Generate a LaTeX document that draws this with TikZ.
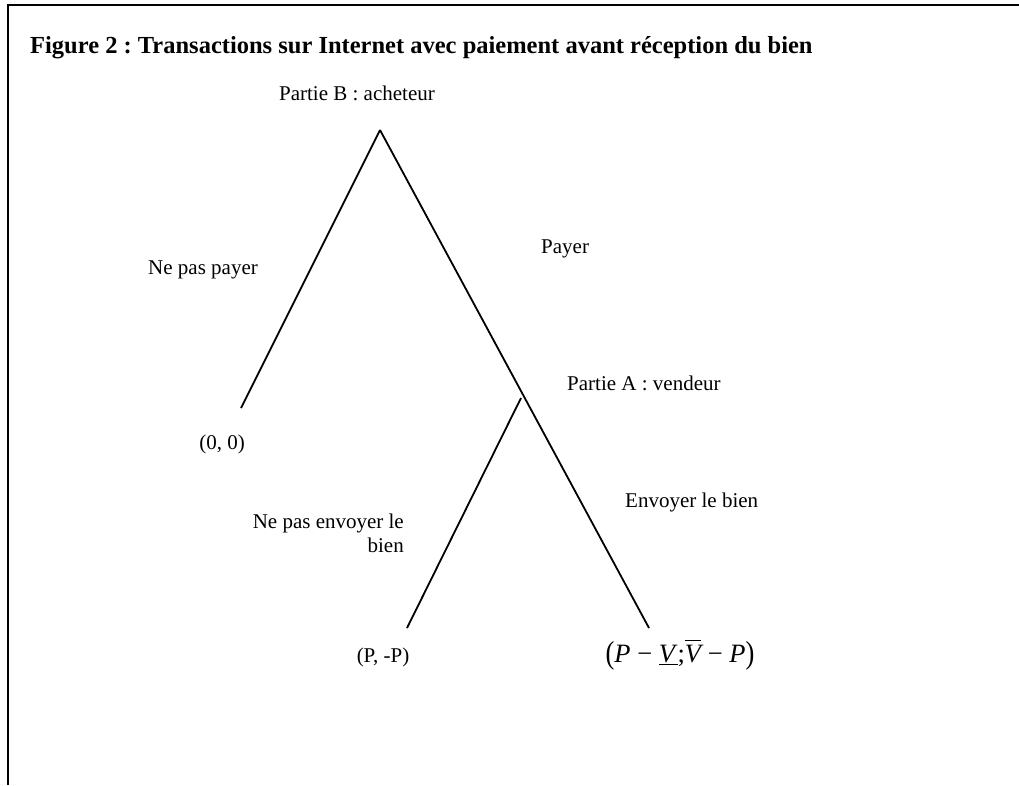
\documentclass[tikz,border=0pt]{standalone}
\usepackage{fontspec}
\setmainfont{Liberation Serif}
\usepackage{tikz}
\usetikzlibrary{positioning}

\newcommand{\grandpar}[1]{\raisebox{-0.04em}{\scalebox{1}[1.2]{#1}}}

\tikzset{
  branche/.style={line width=1.8pt},
  etiq/.style={font=\fontsize{21}{24}\selectfont, inner sep=0pt},
}

\begin{document}
\frenchspacing
\begin{tikzpicture}[x=1pt, y=-1pt]
    \useasboundingbox (0,0) rectangle (1019,785);
    % cadre
    \draw[line width=2pt] (8,785) -- (8,5) -- (1019,5);
    % titre
    \node[anchor=west, inner sep=0pt, font=\bfseries\fontsize{24.5}{28}\selectfont] (titre) at (30,48)
        {Figure 2 : Transactions sur Internet avec paiement avant réception du bien};

    % noeuds de l'arbre
    \coordinate (B) at (380,130);
    \coordinate (A) at (521,398);
    \coordinate (f1) at (241,408);
    \coordinate (f2) at (407,628);
    \coordinate (f3) at (649,628);

    % branches
    \draw[branche] (B) -- (f1);
    \draw[branche] (B) -- (f3);
    \draw[branche] (A) -- (f2);

    % joueurs
    \node[etiq] (partieB) at (357,93) {Partie B : acheteur};
    \node[etiq, anchor=west] (partieA) at (567,383) {Partie A : vendeur};

    % actions
    \node[etiq, anchor=west] (nepaspayer) at (148,270) {Ne pas payer};
    \node[etiq, anchor=west] (payer) at (541,249) {Payer};
    \node[etiq, anchor=east, align=right] (nepasenvoyer) at (404,533) {Ne pas envoyer le\\bien};
    \node[etiq, anchor=west] (envoyer) at (625,502) {Envoyer le bien};

    % gains
    \node[etiq] (g1) at (222,444) {(0, 0)};
    \node[etiq] (g2) at (383,657) {(P, -P)};
    \node[inner sep=0pt, font=\fontsize{26.5}{30}\selectfont] (g3) at (680,655)
        {\grandpar{(}\textit{P} − \underline{\textit{V}};$\overline{\raisebox{0pt}[0.78em]{\itshape V}}$ − \textit{P}\grandpar{)}};
\end{tikzpicture}
\end{document}
